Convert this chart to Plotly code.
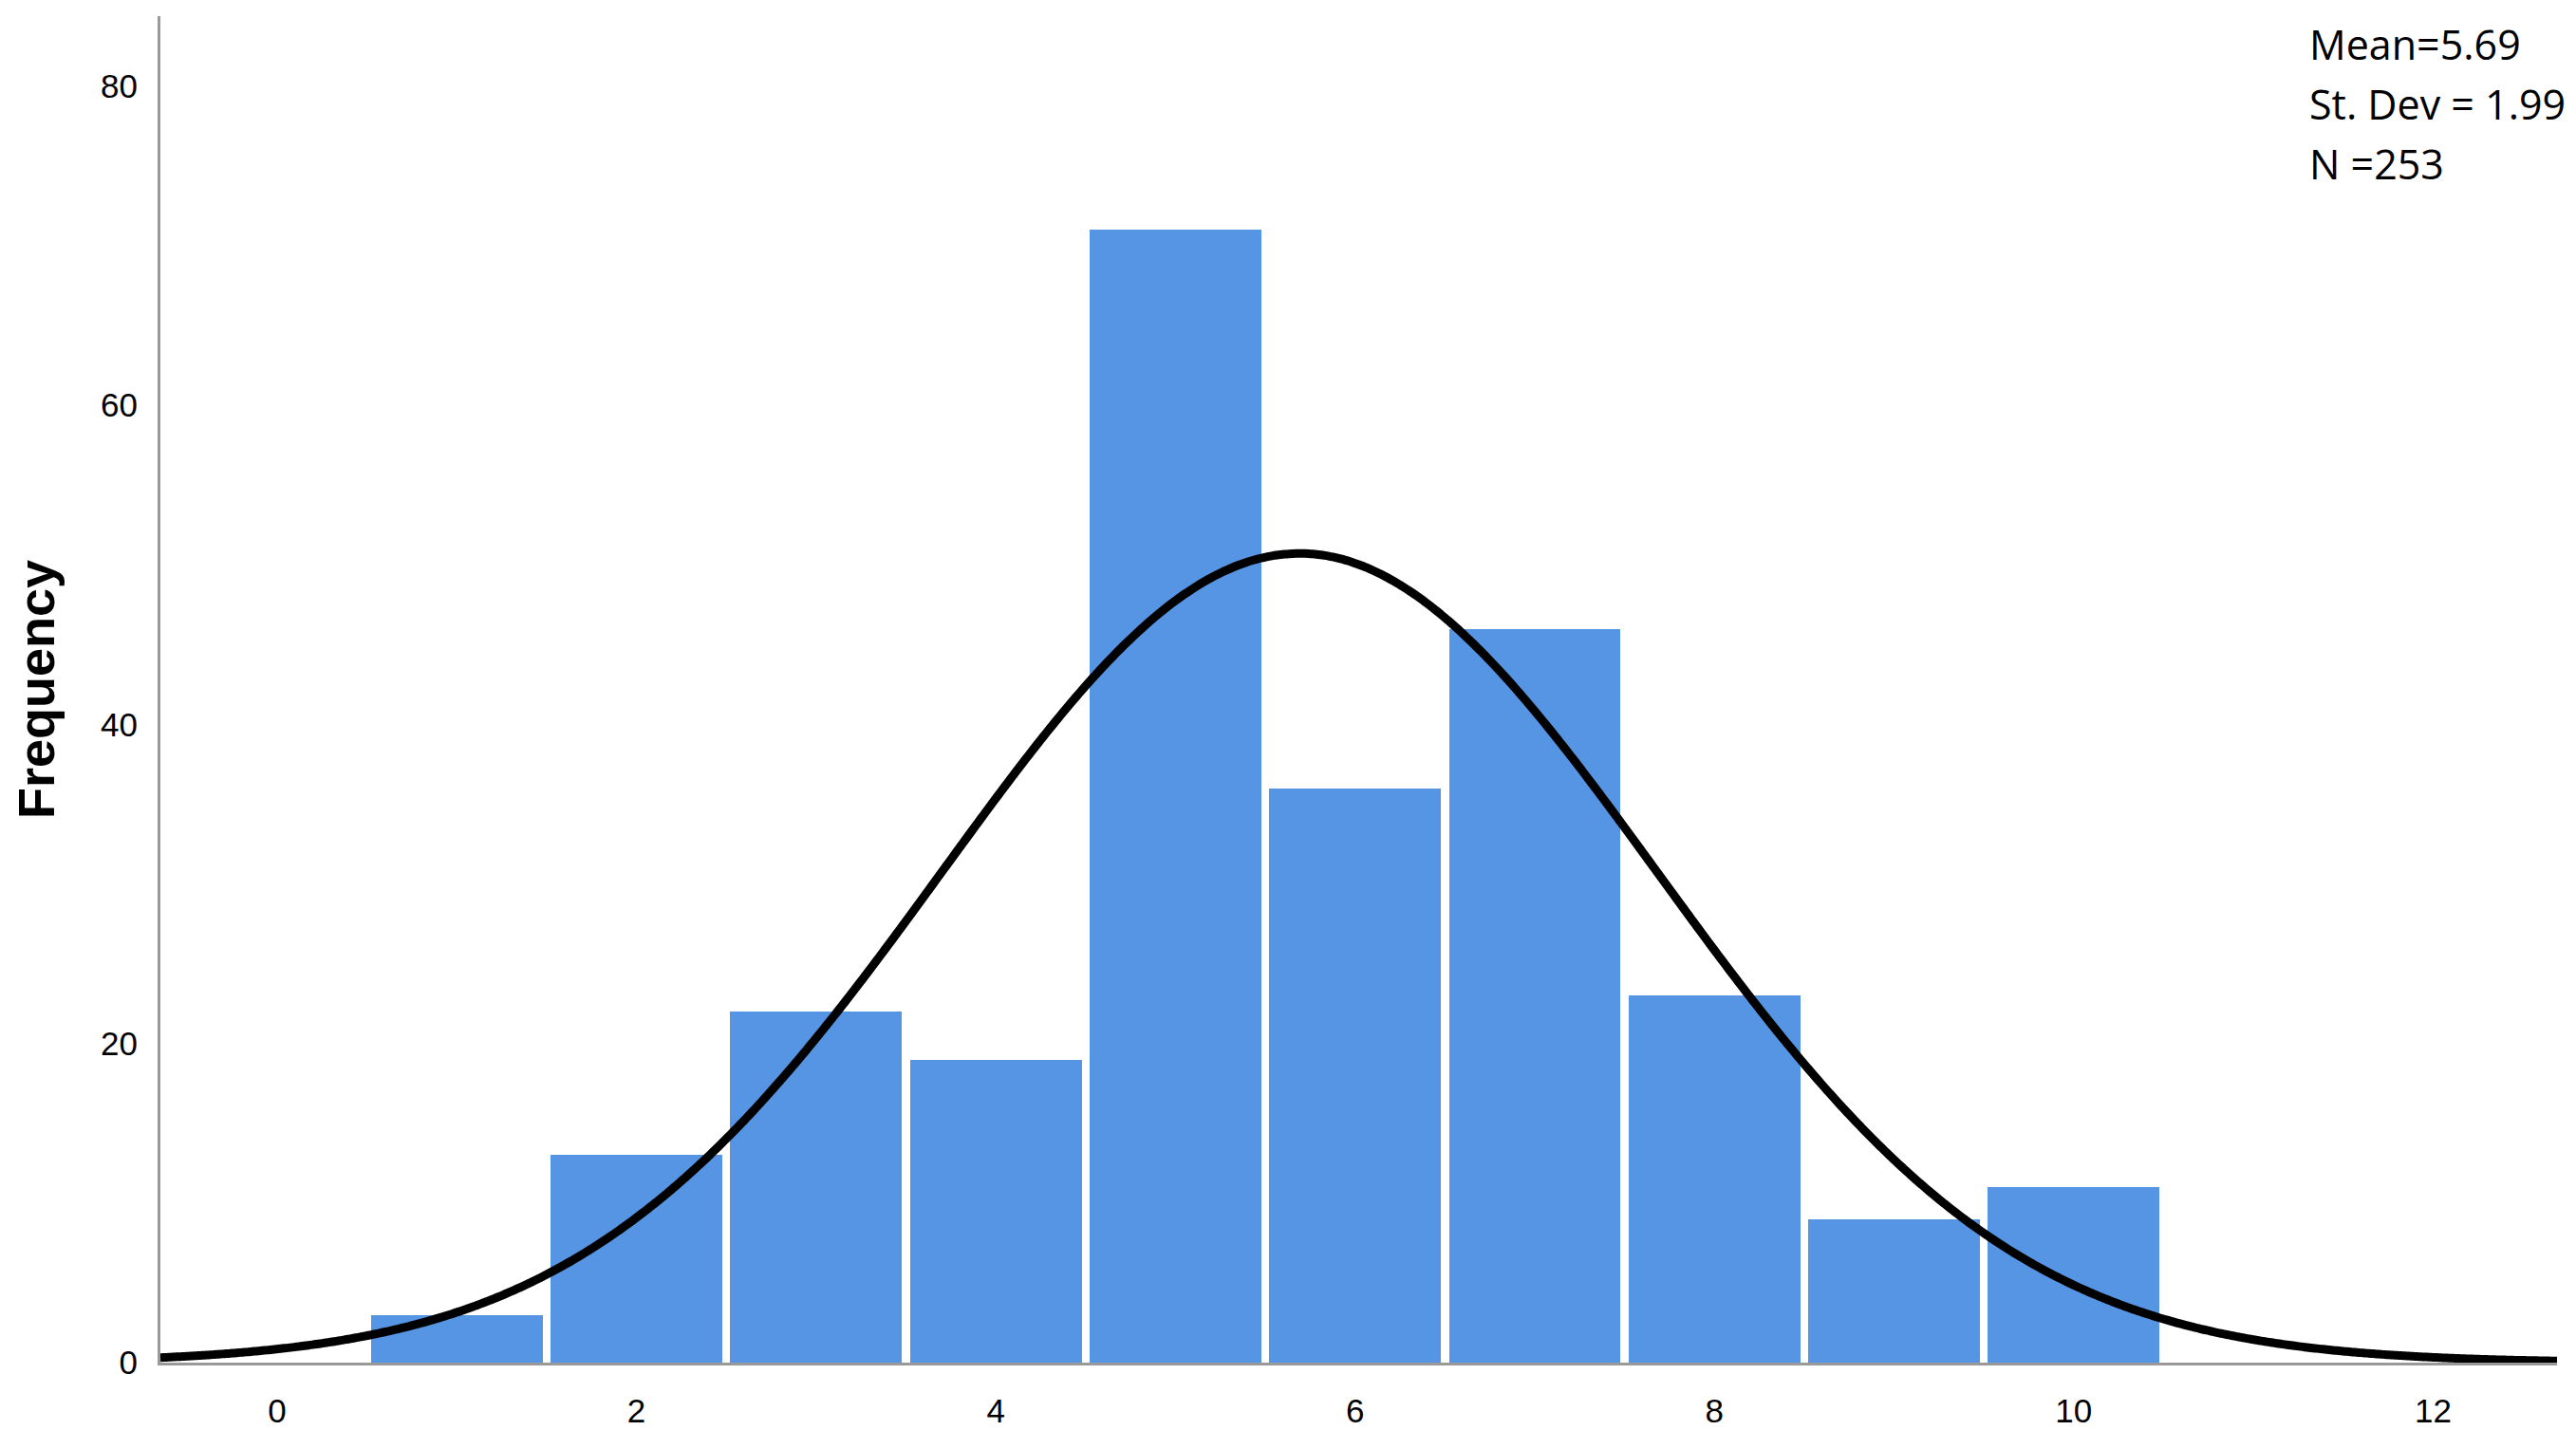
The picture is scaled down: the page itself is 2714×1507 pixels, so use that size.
"""Histogram with fitted normal curve (SPSS-style frequency chart)."""

import numpy as np
import plotly.graph_objects as go

# ---------------------------------------------------------------------------
# Data
# ---------------------------------------------------------------------------
bin_centers = [1, 2, 3, 4, 5, 6, 7, 8, 9, 10]
frequencies = [3, 13, 22, 19, 71, 36, 46, 23, 9, 11]

mean = 5.69
sd = 1.99
n_total = 253
bin_width = 1.0

x_ticks = [0, 2, 4, 6, 8, 10, 12]
y_ticks = [0, 20, 40, 60, 80]

stats_lines = ["Mean=5.69", "St. Dev = 1.99", "N =253"]

BAR_COLOR = "#5595E3"
AXIS_COLOR = "#999999"
X_RANGE = [-0.65, 12.69]
Y_RANGE = [0, 84.4]

PLOT_LEFT = 158
PLOT_RIGHT = 28
PLOT_TOP = 9
PLOT_BOTTOM = 76
PLOT_W = 2714 - PLOT_LEFT - PLOT_RIGHT
PLOT_H = 1507 - PLOT_TOP - PLOT_BOTTOM

# Normal curve scaled to counts
curve_x = np.linspace(X_RANGE[0], X_RANGE[1], 600)
curve_y = n_total * bin_width / (sd * np.sqrt(2 * np.pi)) * np.exp(-0.5 * ((curve_x - mean) / sd) ** 2)

fig = go.Figure()

fig.add_trace(
    go.Bar(
        x=bin_centers,
        y=frequencies,
        width=0.955,
        marker={"color": BAR_COLOR, "line": {"width": 0}},
        showlegend=False,
    )
)

fig.add_trace(
    go.Scatter(
        x=curve_x,
        y=curve_y,
        mode="lines",
        line={"color": "black", "width": 9, "shape": "spline"},
        showlegend=False,
        cliponaxis=False,
    )
)

# stats box, top-right (left edge kept at the same absolute pixel)
for i, line in enumerate(stats_lines):
    fig.add_annotation(
        text=line,
        xref="paper",
        yref="paper",
        x=(2423 - PLOT_LEFT) / PLOT_W,
        y=1.0 - (30 + i * 63) / PLOT_H,
        xanchor="left",
        yanchor="middle",
        showarrow=False,
        font={"family": "Open Sans", "size": 43, "color": "black"},
    )

fig.update_layout(
    width=2714,
    height=1507,
    margin={"l": PLOT_LEFT, "r": PLOT_RIGHT, "t": PLOT_TOP, "b": PLOT_BOTTOM},
    paper_bgcolor="white",
    plot_bgcolor="white",
    bargap=0,
    font={"family": "Liberation Sans", "color": "black"},
    xaxis={
        "range": X_RANGE,
        "tickvals": x_ticks,
        "ticks": "",
        "showgrid": False,
        "zeroline": False,
        "showline": True,
        "linecolor": AXIS_COLOR,
        "linewidth": 3,
        "tickfont": {"size": 35},
        "ticklabelstandoff": 18,
    },
    yaxis={
        "range": Y_RANGE,
        "tickvals": y_ticks,
        "ticks": "",
        "showgrid": False,
        "zeroline": False,
        "showline": True,
        "linecolor": AXIS_COLOR,
        "linewidth": 3,
        "tickfont": {"size": 35},
        "ticklabelstandoff": 14,
        "title": {
            "text": "<b>Frequency</b>",
            "font": {"size": 54, "family": "Liberation Sans"},
            "standoff": 51,
        },
    },
)

fig.write_html("out.html")
